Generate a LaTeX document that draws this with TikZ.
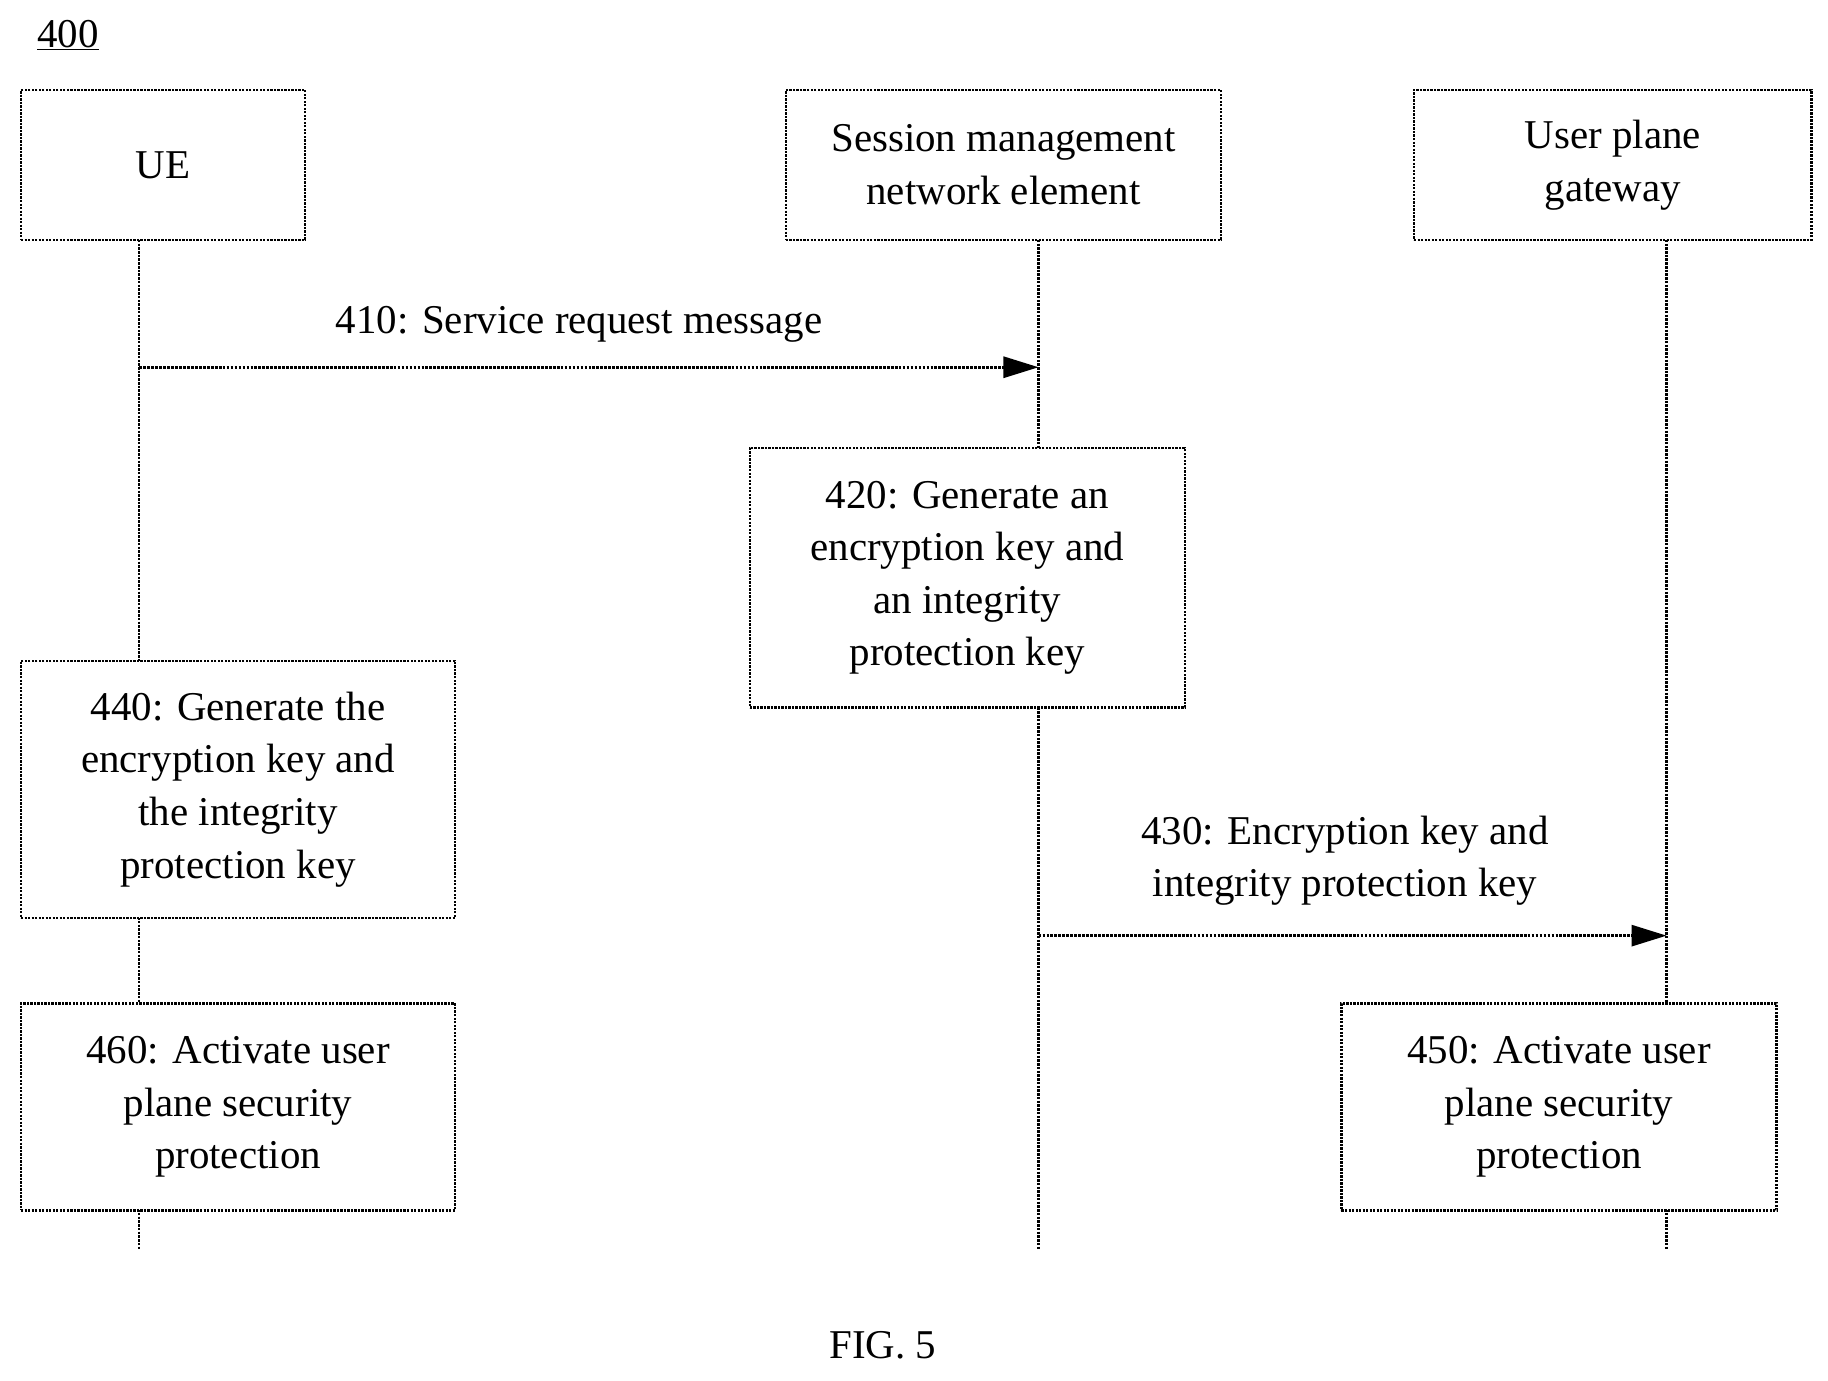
\documentclass[tikz,border=0pt]{standalone}
\usepackage{fontspec}
\setmainfont{Liberation Serif}
\usetikzlibrary{arrows.meta}
\begin{document}
\begin{tikzpicture}[x=1pt,y=-1pt,
  box/.style={draw,line width=2pt,densely dotted,align=center,inner sep=0pt,font=\fontsize{35}{45}\selectfont},
  msg/.style={line width=2.4pt,densely dotted,-{Triangle[length=30pt,width=18pt]}},
  life/.style={line width=2.2pt,densely dotted},
  lbl/.style={align=center,font=\fontsize{35}{45}\selectfont}]
\useasboundingbox (0,0) rectangle (1563,1180);

% heads
\node[box,minimum width=243,minimum height=128] (ue) at (139.5,141) {UE};
\node[box,minimum width=372,minimum height=128] (smf) at (858,141) {Session management\\network element};
\node[box,minimum width=340,minimum height=128] (upg) at (1379,141) {User plane\\gateway};

% lifelines
\coordinate (ueend) at (119,1068);
\coordinate (smfend) at (888,1068);
\coordinate (upgend) at (1425,1068);
\draw[life] (119,205) -- (ueend);
\draw[life] (888,205) -- (smfend);
\draw[life] (1425,205) -- (upgend);

% steps
\node[box,fill=white,minimum width=372,minimum height=222] (s420) at (827,494) {420: Generate an\\encryption key and\\an integrity\\protection key};
\node[box,fill=white,minimum width=371,minimum height=220] (s440) at (203.5,675) {440: Generate the\\encryption key and\\the integrity\\protection key};
\node[box,fill=white,minimum width=371,minimum height=177] (s460) at (203.5,946.5) {460: Activate user\\plane security\\protection};
\node[box,fill=white,minimum width=372,minimum height=177] (s450) at (1333,946.5) {450: Activate user\\plane security\\protection};

% messages
\coordinate (m410a) at (119,314);
\coordinate (m410b) at (888,314);
\draw[msg] (m410a) -- (m410b);
\node[lbl] (l410) at (495,277) {410: Service request message};
\coordinate (m430a) at (888,800);
\coordinate (m430b) at (1425,800);
\draw[msg] (m430a) -- (m430b);
\node[lbl] (l430) at (1150,736) {430: Encryption key and\\integrity protection key};

% labels
\node[lbl] (num) at (58,30) {\underline{400}};
\node[lbl] (fig) at (755,1150) {FIG. 5};
\end{tikzpicture}
\end{document}
